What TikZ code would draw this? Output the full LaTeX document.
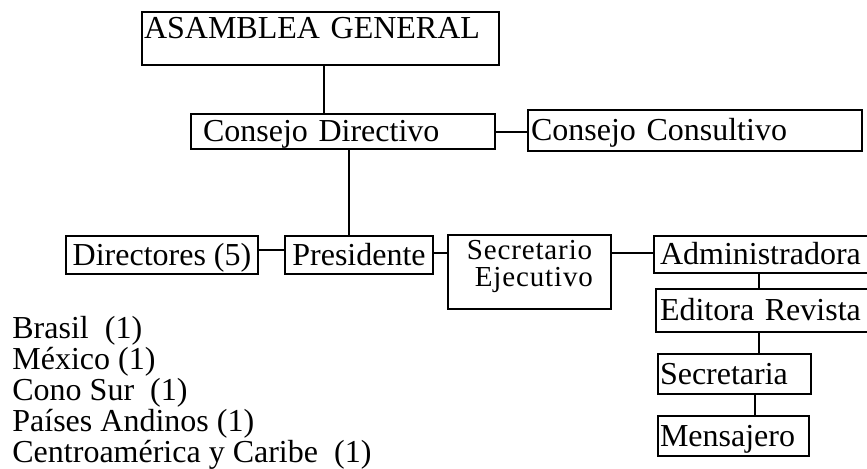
\documentclass[tikz,border=0pt]{standalone}
\usepackage{fontspec}
\setmainfont{Liberation Serif}
\usepackage{tikz}
\usetikzlibrary{positioning}
\newcommand{\orgfont}{\fontsize{16}{12.5}\selectfont}
\newcommand{\secfont}{\fontsize{14.5}{13.5}\selectfont\addfontfeature{LetterSpace=3}}
\tikzstyle{box} = [draw, rectangle, line width=1pt, anchor=north west, inner ysep=0pt, font=\orgfont]
\tikzstyle{unit} = [box, text height=14pt, text depth=3.6pt]
\tikzstyle{leftunit} = [unit, align=left]
\tikzstyle{plain} = [anchor=north west, inner sep=0pt, align=left, font=\orgfont]
\tikzstyle{link} = [draw, line width=1pt]

\begin{document}
\begin{tikzpicture}[x=0.5pt, y=-0.5pt]
\useasboundingbox (0,0) rectangle (867,469);

% units =============================
\node[leftunit, text width=176.5pt, inner xsep=1pt, text height=13.5pt, text depth=13pt] (AG) at (141,11) {ASAMBLEA GENERAL};
\node[leftunit, text width=140pt, inner xsep=6pt] (CD) at (190,113) {Consejo Directivo};
\node[leftunit, text width=164pt, inner xsep=1.5pt, minimum height=20.5pt] (CC) at (527,109) {Consejo Consultivo};
\node[unit, inner xsep=0pt, minimum width=96pt, minimum height=19pt] (Dir) at (65,235) {Directores (5)};
\node[unit, inner xsep=0pt, minimum width=74pt, minimum height=19pt] (Pres) at (284,235) {Presidente};
\node[box, align=center, font=\secfont, text depth=8.5pt, inner xsep=0pt, minimum width=81.5pt, minimum height=37pt] (Sec) at (447,234) {Secretario\\\hspace*{0.3em}Ejecutivo};
\node[leftunit, text width=105pt, inner xsep=3pt, minimum height=18.5pt] (Admin) at (653,235) {Administradora};
\node[leftunit, text width=106pt, inner xsep=2pt, minimum height=21.5pt] (Edit) at (655,288) {Editora Revista};
\node[leftunit, text width=74.5pt, inner xsep=1pt, minimum height=20pt] (Secr) at (657,353) {Secretaria};
\node[leftunit, text width=73.5pt, inner xsep=1pt, minimum height=20pt] (Mens) at (657,415) {Mensajero};

% regions
\node[plain] (regions) at (12,316) {Brasil\ \ (1)\\México (1)\\Cono Sur\ \ (1)\\Países Andinos (1)\\Centroamérica y Caribe\ \ (1)};

% links
\draw[link] ([xshift=1.75pt]AG.south) -- ([xshift=1.75pt]AG.south |- CD.north);
\draw[link] (CD.east) -- (CD.east -| CC.west);
\draw[link] ([xshift=3pt]CD.south) -- ([xshift=3pt]CD.south |- Pres.north);
\draw[link] ([yshift=2.5pt]Dir.east) -- ([yshift=2.5pt]Dir.east -| Pres.west);
\draw[link] ([yshift=1pt]Pres.east) -- ([yshift=1pt]Pres.east -| Sec.west);
\draw[link] ([yshift=0.75pt]Admin.west) -- ([yshift=0.75pt]Admin.west -| Sec.east);
\draw[link] ([xshift=-3pt]Admin.south) -- ([xshift=-3pt]Admin.south |- Edit.north);
\draw[link] ([xshift=-3.5pt]Edit.south) -- ([xshift=-3.5pt]Edit.south |- Secr.north);
\draw[link] ([xshift=10pt]Secr.south) -- ([xshift=10pt]Secr.south |- Mens.north);

\end{tikzpicture}
\end{document}
